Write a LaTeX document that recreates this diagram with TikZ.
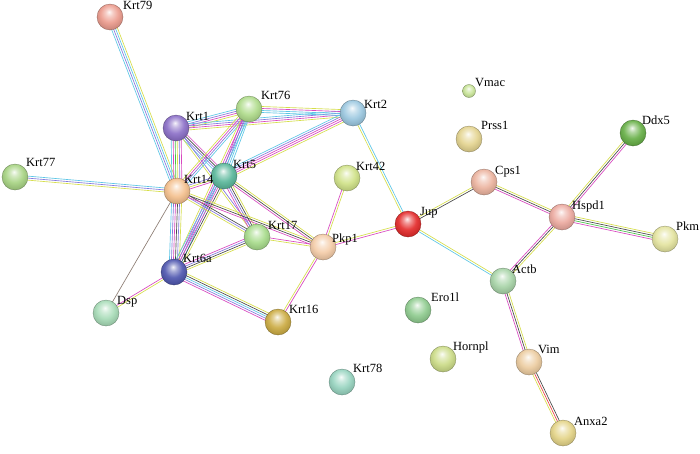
\documentclass[tikz,border=0pt]{standalone}
\usepackage{fontspec}
\setmainfont{Liberation Serif}
\usetikzlibrary{calc}
\pgfdeclarelayer{bg}
\pgfdeclarelayer{edges}
\pgfsetlayers{bg,edges,main}
\definecolor{cy}{HTML}{5CC6E6}
\definecolor{mg}{HTML}{D848C0}
\definecolor{yl}{HTML}{D6DE4A}
\definecolor{bk}{HTML}{484848}
\definecolor{lv}{HTML}{8478DC}
\definecolor{gr}{HTML}{48C048}
\definecolor{rd}{HTML}{EE4444}
\definecolor{br}{HTML}{8C7C72}
\makeatletter
\pgfdeclareradialshading[tikz@ball]{sball}{\pgfpoint{-2bp}{10bp}}{%
  color(0bp)=(tikz@ball!8!white); color(7bp)=(tikz@ball!50!white);
  color(17bp)=(tikz@ball!92!white); color(27bp)=(tikz@ball!88!black);
  color(34bp)=(tikz@ball!70!black); color(50bp)=(tikz@ball!70!black)}
\makeatother
\tikzset{
  prot/.style={circle, minimum size=26pt, inner sep=0pt, ball color=#1, shading=sball, draw=#1!60!black, line width=0.3pt},
  lbl/.style={anchor=base west, inner sep=0pt, font=\fontsize{12.5}{13}\selectfont},
  ln/.style={line width=0.65pt}
}
\newcommand\prot[6]{\definecolor{c#1}{HTML}{#4}\node[prot=c#1] (#1) at (#2,#3) {};
  \node[lbl] (L#1) at ([shift={(#5,#6)}]#1.center) {#1};}
\newcommand\lnk[4]{\foreach \c [count=\i] in {#4}{%
  \pgfmathsetmacro\off{(\i-(#3+1)/2)*2.0}%
  \draw[ln,\c] ($(#1.center)!\off pt!90:(#2.center)$) -- ($(#2.center)!\off pt!-90:(#1.center)$);}}
\begin{document}
\begin{tikzpicture}[x=1pt,y=-1pt]
\begin{pgfonlayer}{bg}
\fill[white] (0,0) rectangle (700,453);
\end{pgfonlayer}
\useasboundingbox (0,0) rectangle (700,453);
% proteins
\prot{Krt79}{110}{17}{EC9C8E}{13}{-8}
\prot{Krt76}{249}{109}{B0DC8C}{12}{-10}
\prot{Krt2}{353}{113}{9CC8E0}{11}{-5}
\prot{Krt1}{176}{128}{8C70C8}{10}{-8}
\prot{Krt77}{15}{177}{A8D484}{11}{-11}
\prot{Krt5}{224}{176}{5CB89C}{9}{-8}
\prot{Krt14}{177}{191}{F4C08E}{7}{-8}
\prot{Krt42}{347}{178}{D0E288}{9}{-8}
\prot{Krt17}{257}{237}{A8DC8C}{11}{-8}
\prot{Pkp1}{323}{247}{F4CCA8}{9}{-5}
\prot{Krt6a}{174}{272}{5058B0}{9}{-10}
\prot{Dsp}{106}{313}{A8DCB8}{11}{-9}
\prot{Krt16}{278}{322}{CCAC44}{11}{-9}
\prot{Krt78}{342}{382}{98D4C0}{11}{-10}
\prot{Jup}{408}{224}{E42C2C}{12}{-9}
\definecolor{cVmac}{HTML}{C8E498}
\node[prot=cVmac, minimum size=13pt] (Vmac) at (469,91) {};
\node[lbl] (LVmac) at ([shift={(6,-5)}]Vmac.center) {Vmac};
\prot{Prss1}{469}{139}{E4D490}{12}{-10}
\prot{Cps1}{484}{182}{ECB4A0}{11}{-8}
\prot{Ddx5}{633}{133}{68B048}{9}{-9}
\prot{Hspd1}{562}{217}{ECAAA0}{10}{-8}
\prot{Pkm}{665}{239}{E4E4A0}{11}{-9}
\prot{Actb}{503}{281}{A8D4A8}{9}{-8}
\prot{Ero1l}{418}{310}{90CC90}{13}{-9}
\prot{Hornpl}{443}{359}{CCDC88}{10}{-9}
\prot{Vim}{529}{362}{ECCCA0}{9}{-9}
\prot{Anxa2}{563}{433}{E4D488}{11}{-8}
% links
\begin{pgfonlayer}{edges}
\lnk{Krt79}{Krt14}{4}{cy,lv,cy,yl}
\lnk{Krt77}{Krt14}{3}{yl,lv,cy}
\lnk{Krt1}{Krt76}{4}{yl,mg,lv,cy}
\lnk{Krt1}{Krt2}{4}{yl,mg,lv,cy}
\lnk{Krt76}{Krt2}{4}{cy,cy,mg,yl}
\lnk{Krt5}{Krt2}{5}{yl,mg,mg,lv,cy}
\lnk{Krt2}{Jup}{2}{yl,cy}
\lnk{Krt1}{Krt14}{6}{cy,mg,gr,yl,lv,mg}
\lnk{Krt14}{Krt6a}{6}{cy,lv,mg,bk,lv,yl}
\lnk{Krt1}{Krt5}{4}{cy,lv,bk,mg}
\lnk{Krt1}{Krt17}{2}{yl,lv}
\lnk{Krt76}{Krt14}{4}{yl,mg,lv,cy}
\lnk{Krt76}{Krt5}{4}{mg,lv,cy,cy}
\lnk{Krt76}{Krt6a}{4}{yl,mg,lv,cy}
\lnk{Krt14}{Krt5}{3}{mg,yl,lv}
\lnk{Krt5}{Krt6a}{5}{cy,lv,mg,bk,yl}
\lnk{Krt5}{Krt17}{4}{mg,lv,bk,yl}
\lnk{Krt5}{Pkp1}{3}{mg,bk,yl}
\lnk{Krt14}{Krt17}{3}{yl,lv,bk}
\lnk{Krt14}{Pkp1}{3}{mg,bk,yl}
\lnk{Krt6a}{Krt17}{4}{yl,bk,lv,mg}
\lnk{Krt6a}{Krt16}{5}{mg,lv,cy,bk,yl}
\lnk{Krt6a}{Dsp}{2}{mg,yl}
\lnk{Krt14}{Dsp}{1}{br}
\lnk{Krt17}{Pkp1}{2}{yl,mg}
\lnk{Krt42}{Pkp1}{2}{mg,yl}
\lnk{Pkp1}{Krt16}{2}{yl,mg}
\lnk{Pkp1}{Jup}{2}{mg,yl}
\lnk{Jup}{Cps1}{2}{bk,yl}
\lnk{Jup}{Actb}{2}{cy,yl}
\lnk{Cps1}{Hspd1}{3}{mg,bk,yl}
\lnk{Hspd1}{Ddx5}{3}{mg,bk,yl}
\lnk{Hspd1}{Pkm}{4}{mg,gr,bk,yl}
\lnk{Hspd1}{Actb}{3}{mg,bk,yl}
\lnk{Actb}{Vim}{3}{mg,bk,yl}
\lnk{Vim}{Anxa2}{3}{yl,rd,bk}
\end{pgfonlayer}
\end{tikzpicture}
\end{document}
